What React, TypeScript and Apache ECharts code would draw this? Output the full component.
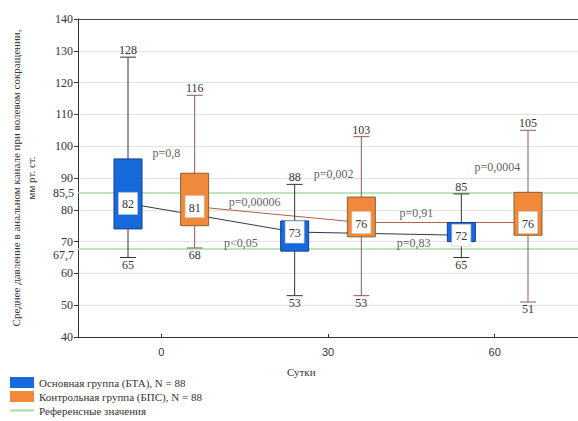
import React, { useEffect, useRef } from "react";
import * as echarts from "echarts";

// Days of observation
const days = [0, 30, 60];
// Основная группа (БТА): min, Q1, median, Q3, max
const btaMin = [65, 53, 65];
const btaQ1 = [74, 67, 70];
const btaMedian = [82, 73, 72];
const btaQ3 = [96, 76.5, 76];
const btaMax = [128, 88, 85];
// Контрольная группа (БПС)
const bpsMin = [68, 53, 51];
const bpsQ1 = [75, 71.5, 72];
const bpsMedian = [81, 76, 76];
const bpsQ3 = [91.5, 84, 85.5];
const bpsMax = [116, 103, 105];
// Reference values
const refValues = [85.5, 67.7];
const refLabels = ["85,5", "67,7"];
// p-value annotations [day, value]
const pTexts = ["p=0,8", "p=0,00006", "p<0,05", "p=0,002", "p=0,91", "p=0,83", "p=0,0004"];
const pDays = [0.9, 16.8, 14.3, 31, 45.9, 45.4, 60.5];
const pValues = [97.9, 82.5, 69.6, 91.3, 79, 69.6, 93.5];

const NAME_BTA = "Основная группа (БТА), N = 88";
const NAME_BPS = "Контрольная группа (БПС), N = 88";
const NAME_REF = "Референсные значения";

const SERIF = "Liberation Serif";
const SANS = "Liberation Sans";
const OFFSET = 6;

function makeRender(offset: number, fill: string, stroke: string, whisker: string) {
  return (params: any, api: any) => {
    const d = api.value(0) + offset;
    const lo = api.coord([d, api.value(1)]);
    const q1 = api.coord([d, api.value(2)]);
    const med = api.coord([d, api.value(3)]);
    const q3 = api.coord([d, api.value(4)]);
    const hi = api.coord([d, api.value(5)]);
    const x = med[0];
    const bw = 28, cw = 16, lw = 19, lh = 22;
    const txt = (t: string, y: number, va: string) => ({
      type: "text",
      x,
      y,
      style: {
        text: t,
        align: "center",
        verticalAlign: va,
        textAlign: "center",
        textVerticalAlign: va,
        fontSize: 12,
        fontFamily: SERIF,
        fill: "#333",
      },
    });
    return {
      type: "group",
      children: [
        { type: "line", shape: { x1: x, y1: hi[1], x2: x, y2: lo[1] }, style: { stroke: whisker, lineWidth: 1 } },
        { type: "line", shape: { x1: x - cw / 2, y1: hi[1], x2: x + cw / 2, y2: hi[1] }, style: { stroke: whisker, lineWidth: 1 } },
        { type: "line", shape: { x1: x - cw / 2, y1: lo[1], x2: x + cw / 2, y2: lo[1] }, style: { stroke: whisker, lineWidth: 1 } },
        {
          type: "rect",
          shape: { x: x - bw / 2, y: q3[1], width: bw, height: q1[1] - q3[1] },
          style: { fill, stroke, lineWidth: 1 },
        },
        {
          type: "rect",
          shape: { x: x - lw / 2, y: med[1] - lh / 2, width: lw, height: lh },
          style: { fill: "#fff", stroke: "#c8c8c8", lineWidth: 0.6 },
        },
        txt(String(api.value(3)), med[1] + 1, "middle"),
        txt(String(api.value(5)), hi[1] - 1, "bottom"),
        txt(String(api.value(1)), lo[1] + 1, "top"),
      ],
    };
  };
}

export default function App() {
  const ref = useRef<HTMLDivElement>(null);
  useEffect(() => {
    if (!ref.current) return;
    const chart = echarts.init(ref.current, null, { renderer: "svg" });
    const btaData = days.map((d, i) => [d, btaMin[i], btaQ1[i], btaMedian[i], btaQ3[i], btaMax[i]]);
    const bpsData = days.map((d, i) => [d, bpsMin[i], bpsQ1[i], bpsMedian[i], bpsQ3[i], bpsMax[i]]);
    const refLabelShift = [[0, 1], [0, 6]];
    const option: any = {
      animation: false,
      textStyle: { fontFamily: SERIF },
      grid: { left: 72, top: 19, width: 516, height: 318 },
      xAxis: [
        {
          type: "value",
          min: -15,
          max: 75,
          axisLine: { show: true, onZero: false, lineStyle: { color: "#333" } },
          axisTick: { show: true, inside: true, length: 3, customValues: days, lineStyle: { color: "#333" } },
          axisLabel: {
            color: "#333",
            fontSize: 11,
            fontFamily: SANS,
            margin: 9,
            customValues: days,
          },
          splitLine: { show: false },
        },
        {
          type: "value",
          position: "top",
          min: -15,
          max: 75,
          axisLine: { show: true, onZero: false, lineStyle: { color: "#444" } },
          axisTick: { show: false },
          axisLabel: { show: false },
          splitLine: { show: false },
        },
      ],
      yAxis: {
        type: "value",
        min: 40,
        max: 140,
        interval: 10,
        name: "Среднее давление в анальном канале при волевом сокращении,\nмм рт. ст.",
        nameLocation: "middle",
        nameGap: 40,
        nameTextStyle: { fontFamily: SERIF, fontSize: 11, color: "#333", lineHeight: 15 },
        axisLine: { show: true, onZero: false, lineStyle: { color: "#333" } },
        axisTick: { show: true, length: 4, lineStyle: { color: "#333" } },
        axisLabel: { color: "#333", fontSize: 12, fontFamily: SERIF, margin: 5 },
        splitLine: { show: true, lineStyle: { color: "#e2e2e2" } },
      },
      legend: {
        orient: "vertical",
        left: 10,
        top: 377,
        padding: 0,
        itemWidth: 24,
        itemHeight: 11,
        itemGap: 3,
        textStyle: { fontFamily: SERIF, fontSize: 11, color: "#333" },
        data: [
          { name: NAME_BTA, icon: "rect" },
          { name: NAME_BPS, icon: "rect" },
          { name: NAME_REF, icon: "path://M0,10 L24,10 L24,12 L0,12 Z" },
        ],
      },
      graphic: [
        {
          type: "text",
          left: 287,
          top: 366,
          style: { text: "Сутки", fontSize: 11, fontFamily: SERIF, fill: "#333" },
        },
      ],
      series: [
        {
          name: NAME_REF,
          type: "line",
          data: [],
          itemStyle: { color: "#a5dca5" },
          lineStyle: { color: "#a5dca5" },
          markLine: {
            silent: true,
            symbol: "none",
            lineStyle: { color: "#a5dca5", width: 1.5, type: "solid" },
            label: {
              show: true,
              position: "start",
              distance: 4,
              color: "#333",
              fontSize: 12,
              fontFamily: SERIF,
              formatter: (p: any) => refLabels[p.dataIndex],
            },
            data: refValues.map((v, i) => ({ yAxis: v, label: { offset: refLabelShift[i] } })),
          },
          z: 1,
        },
        {
          name: "lineBTA",
          type: "line",
          data: days.map((d, i) => [d - OFFSET, btaMedian[i]]),
          symbol: "none",
          lineStyle: { color: "#2d3a55", width: 1 },
          z: 2,
        },
        {
          name: "lineBPS",
          type: "line",
          data: days.map((d, i) => [d + OFFSET, bpsMedian[i]]),
          symbol: "none",
          lineStyle: { color: "#b0604f", width: 1 },
          z: 2,
        },
        {
          name: NAME_BTA,
          type: "custom",
          renderItem: makeRender(-OFFSET, "#1769dc", "#0e3f96", "#333"),
          data: btaData,
          itemStyle: { color: "#1769dc", borderColor: "#0e3f96" },
          encode: { x: 0, y: [1, 5] },
          z: 5,
        },
        {
          name: NAME_BPS,
          type: "custom",
          renderItem: makeRender(OFFSET, "#f08a3a", "#8c5e30", "#8a5c5c"),
          data: bpsData,
          itemStyle: { color: "#f08a3a", borderColor: "#8c5e30" },
          encode: { x: 0, y: [1, 5] },
          z: 5,
        },
        {
          name: "p",
          type: "scatter",
          data: pDays.map((d, i) => [d, pValues[i]]),
          symbolSize: 0,
          silent: true,
          label: {
            show: true,
            position: "inside",
            color: "#333",
            fontSize: 12,
            fontFamily: SERIF,
            formatter: (p: any) => pTexts[p.dataIndex],
          },
          z: 6,
        },
      ],
    };
    chart.setOption(option);
    return () => chart.dispose();
  }, []);
  return (
    <div
      ref={ref}
      style={{ position: "fixed", left: 0, top: 0, width: 578, height: 421, background: "#fff" }}
    />
  );
}
